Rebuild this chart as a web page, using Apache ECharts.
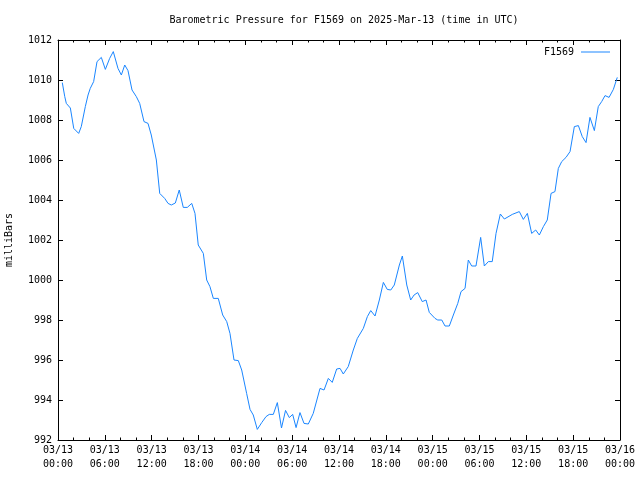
<!DOCTYPE html>
<html><head><meta charset="utf-8">
<script src="https://cdn.jsdelivr.net/npm/echarts@6/dist/echarts.min.js"></script>
<style>html,body{margin:0;padding:0;background:#fff}#c{width:640px;height:480px}</style>
</head><body><div id="c"></div>
<script>
const titleText = "Barometric Pressure for F1569 on 2025-Mar-13 (time in UTC)";
const seriesName = "F1569";
const yName = "milliBars";
const times = [
"03/13 00:33","03/13 00:52","03/13 01:04","03/13 01:35","03/13 02:01","03/13 02:39","03/13 02:59","03/13 03:30",
"03/13 03:51","03/13 04:08","03/13 04:34","03/13 05:00","03/13 05:33","03/13 06:04","03/13 06:37","03/13 07:05",
"03/13 07:41","03/13 08:07","03/13 08:33","03/13 08:58","03/13 09:29","03/13 10:02","03/13 10:28","03/13 11:01",
"03/13 11:32","03/13 11:57","03/13 12:36","03/13 13:02","03/13 13:40","03/13 14:06","03/13 14:31","03/13 15:02",
"03/13 15:32","03/13 16:03","03/13 16:34","03/13 17:08","03/13 17:33","03/13 17:58","03/13 18:37","03/13 19:03",
"03/13 19:28","03/13 19:54","03/13 20:32","03/13 21:06","03/13 21:37","03/13 22:02","03/13 22:33","03/13 23:06",
"03/13 23:32","03/14 00:10","03/14 00:36","03/14 01:01","03/14 01:32","03/14 02:06","03/14 02:39","03/14 03:04",
"03/14 03:35","03/14 04:06","03/14 04:38","03/14 05:09","03/14 05:38","03/14 06:04","03/14 06:30","03/14 07:00",
"03/14 07:31","03/14 08:04","03/14 08:42","03/14 09:34","03/14 10:05","03/14 10:38","03/14 11:08","03/14 11:42",
"03/14 12:08","03/14 12:33","03/14 13:11","03/14 13:50","03/14 14:21","03/14 15:07","03/14 15:38","03/14 16:04",
"03/14 16:37","03/14 17:10","03/14 17:41","03/14 18:11","03/14 18:38","03/14 19:05","03/14 19:44","03/14 20:07",
"03/14 20:41","03/14 21:11","03/14 21:37","03/14 22:05","03/14 22:40","03/14 23:09","03/14 23:34","03/15 00:18",
"03/15 00:39","03/15 01:10","03/15 01:35","03/15 02:08","03/15 02:39","03/15 03:13","03/15 03:38","03/15 04:09",
"03/15 04:34","03/15 05:00","03/15 05:33","03/15 06:09","03/15 06:37","03/15 07:08","03/15 07:38","03/15 08:07",
"03/15 08:40","03/15 09:11","03/15 10:12","03/15 11:06","03/15 11:37","03/15 12:08","03/15 12:41","03/15 13:12",
"03/15 13:40","03/15 14:11","03/15 14:41","03/15 15:10","03/15 15:40","03/15 16:06","03/15 16:32","03/15 17:05",
"03/15 17:36","03/15 18:09","03/15 18:40","03/15 19:10","03/15 19:39","03/15 20:09","03/15 20:43","03/15 21:13",
"03/15 21:39","03/15 22:05","03/15 22:36","03/15 23:09","03/15 23:39"
];
const pressure = [
1009.87,1009.17,1008.83,1008.6,1007.58,1007.33,1007.67,1008.67,
1009.25,1009.58,1009.92,1010.92,1011.13,1010.53,1011.08,1011.42,
1010.58,1010.25,1010.75,1010.47,1009.5,1009.17,1008.83,1007.92,
1007.83,1007.25,1006.0,1004.33,1004.08,1003.83,1003.75,1003.85,
1004.5,1003.63,1003.63,1003.83,1003.33,1001.75,1001.33,1000.0,
999.67,999.08,999.08,998.25,997.92,997.33,996.0,995.97,
995.5,994.33,993.53,993.25,992.53,992.87,993.17,993.28,
993.28,993.87,992.6,993.48,993.12,993.28,992.62,993.37,
992.83,992.8,993.33,994.58,994.5,995.08,994.88,995.55,
995.58,995.3,995.67,996.5,997.08,997.58,998.17,998.47,
998.2,999.0,999.88,999.53,999.5,999.75,1000.75,1001.2,
999.75,999.0,999.25,999.37,998.92,999.0,998.38,998.08,
998.0,998.0,997.7,997.7,998.25,998.83,999.42,999.58,
1001.0,1000.7,1000.7,1002.13,1000.7,1000.92,1000.92,1002.33,
1003.3,1003.05,1003.28,1003.42,1003.03,1003.33,1002.33,1002.5,
1002.25,1002.67,1003.0,1004.33,1004.42,1005.58,1005.92,1006.13,
1006.42,1007.67,1007.72,1007.17,1006.87,1008.13,1007.47,1008.67,
1008.92,1009.22,1009.13,1009.53,1010.13
];
const startDay = 13;
const xMin = 0, xMax = 72, xStep = 6;
const yMin = 992, yMax = 1012, yStep = 2;

function toHours(s){
  const [d, t] = s.split(' ');
  const day = parseInt(d.split('/')[1], 10);
  const [hh, mm] = t.split(':').map(Number);
  return (day - startDay) * 24 + hh + mm / 60;
}
const data = times.map((t, i) => [toHours(t), pressure[i]]);
function pad(n){ return (n < 10 ? '0' : '') + n; }
function fmtX(v){
  const day = startDay + Math.floor(v / 24);
  const h = Math.round(v % 24);
  return '03/' + pad(day) + '\n' + pad(h) + ':00';
}
const font = 'DejaVu Sans Mono';
const axisCommon = {
  axisLine: { show: true, onZero: false, lineStyle: { color: '#000', width: 1 } },
  splitLine: { show: false }
};
const chart = echarts.init(document.getElementById('c'), null, { renderer: 'canvas' });
chart.setOption({
  animation: false,
  backgroundColor: '#fff',
  title: { text: titleText, left: 339, top: 10, textAlign: 'center',
    textStyle: { fontFamily: font, fontSize: 10, fontWeight: 'normal', color: '#000' } },
  legend: { right: 25, top: 42, align: 'right', icon: 'rect', itemWidth: 29, itemHeight: 1, itemGap: 0,
    textStyle: { fontFamily: font, fontSize: 10, color: '#000', padding: [0, 2, 0, 0] }, data: [seriesName] },
  grid: { left: 58, right: 20, top: 40, bottom: 40, containLabel: false, outerBoundsMode: 'none' },
  xAxis: [
    Object.assign({ type: 'value', position: 'bottom', min: xMin, max: xMax, interval: xStep,
      axisTick: { inside: true, length: 5, lineStyle: { color: '#000' } },
      minorTick: { show: true, splitNumber: 3, length: 2.5, lineStyle: { color: '#000' } },
      minorSplitLine: { show: false },
      axisLabel: { formatter: fmtX, margin: 3, lineHeight: 14.5, fontFamily: font, fontSize: 10, color: '#000' } }, axisCommon),
    Object.assign({ type: 'value', position: 'top', min: xMin, max: xMax, interval: xStep,
      axisTick: { inside: true, length: 5, lineStyle: { color: '#000' } },
      minorTick: { show: true, splitNumber: 3, length: 2.5, lineStyle: { color: '#000' } },
      axisLabel: { show: false } }, axisCommon)
  ],
  yAxis: [
    Object.assign({ type: 'value', position: 'left', min: yMin, max: yMax, interval: yStep,
      name: yName, nameLocation: 'middle', nameRotate: 90, nameGap: 44,
      nameTextStyle: { fontFamily: font, fontSize: 10, color: '#000' },
      axisTick: { inside: true, length: 5, lineStyle: { color: '#000' } },
      axisLabel: { margin: 6, formatter: v => String(v), fontFamily: font, fontSize: 10, color: '#000' } }, axisCommon),
    Object.assign({ type: 'value', position: 'right', min: yMin, max: yMax, interval: yStep,
      axisTick: { inside: true, length: 5, lineStyle: { color: '#000' } },
      axisLabel: { show: false } }, axisCommon)
  ],
  series: [{
    name: seriesName, type: 'line', xAxisIndex: 0, yAxisIndex: 0,
    data: data, showSymbol: false, symbol: 'none',
    lineStyle: { color: '#1a86ff', width: 1 }, itemStyle: { color: '#1a86ff' }
  }]
});
</script></body></html>
